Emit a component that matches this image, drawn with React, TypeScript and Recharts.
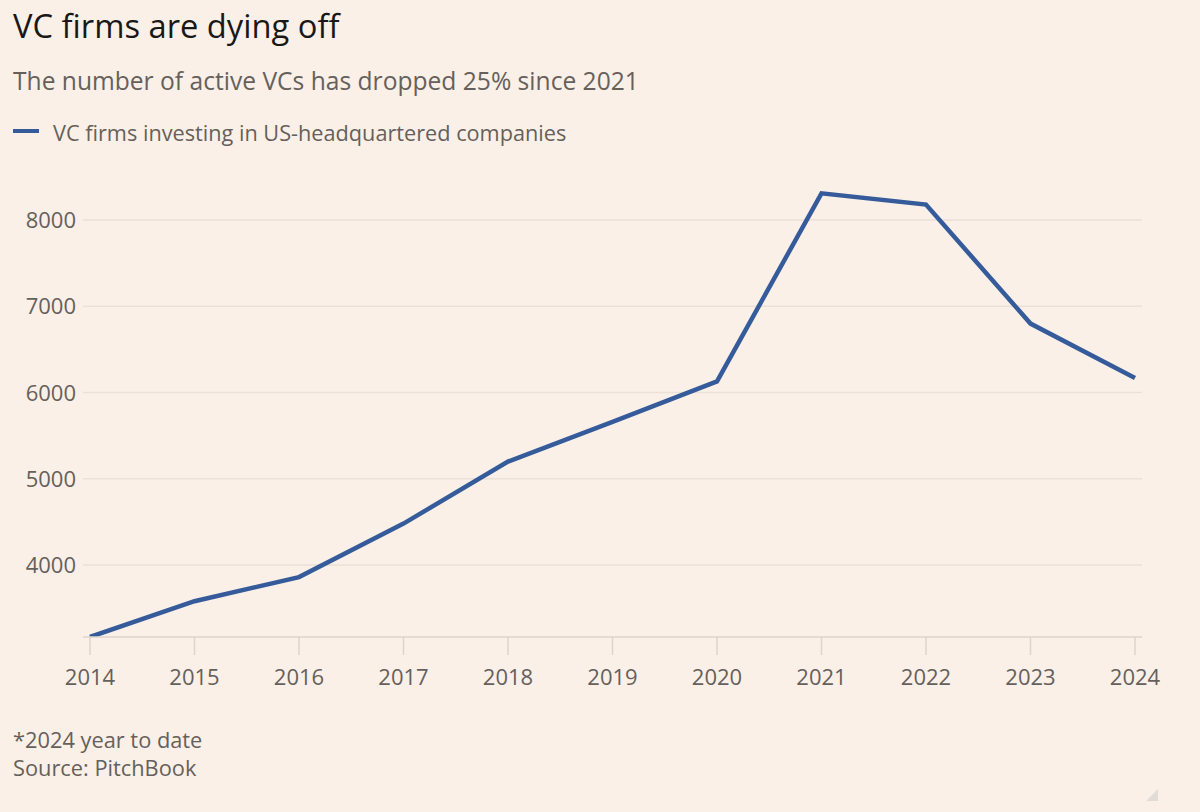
import React from "react";
import { LineChart, Line, XAxis, YAxis, CartesianGrid } from "recharts";

const years = ["2014", "2015", "2016", "2017", "2018", "2019", "2020", "2021", "2022", "2023", "2024"];
const vcFirms = [3165, 3580, 3860, 4480, 5200, 5660, 6130, 8310, 8180, 6800, 6170];
const yTicks = [4000, 5000, 6000, 7000, 8000];

const title = "VC firms are dying off";
const subtitle = "The number of active VCs has dropped 25% since 2021";
const legendLabel = "VC firms investing in US-headquartered companies";
const footnote = "*2024 year to date";
const source = "Source: PitchBook";

const data = years.map((y, i) => ({ year: y, value: vcFirms[i] }));

const BG = "#FAF0E7";
const LINE = "#355B9B";
const GREY = "#66605C";
const FONT = "'Open Sans', 'Noto Sans', sans-serif";

const YTick = (props: any) => {
  const { x, y, payload } = props;
  return (
    <text x={x} y={y + 8} textAnchor="end" fill={GREY} fontSize={22} fontFamily={FONT}>
      {payload.value}
    </text>
  );
};

const XTick = (props: any) => {
  const { x, y, payload } = props;
  return (
    <text x={x} y={y + 30} textAnchor="middle" fill={GREY} fontSize={22} fontFamily={FONT}>
      {payload.value}
    </text>
  );
};

export default function App() {
  return (
    <div style={{ position: "absolute", left: 0, top: 0, width: 1200, height: 812, background: BG, overflow: "hidden" }}>
      <div style={{ position: "absolute", left: 0, top: 0 }}>
        <LineChart width={1200} height={700} data={data} margin={{ top: 177, right: 58, left: 0, bottom: 23 }}>
          <CartesianGrid vertical={false} horizontalValues={yTicks} stroke="#EBE1D8" strokeWidth={1.5} />
          <XAxis
            dataKey="year"
            height={40}
            padding={{ left: 7, right: 7 }}
            axisLine={{ stroke: "#DDD4CB", strokeWidth: 1.5 }}
            tickLine={{ stroke: "#DDD4CB", strokeWidth: 1.5 }}
            tickSize={18}
            tickMargin={0}
            tick={<XTick />}
            interval={0}
          />
          <YAxis
            width={83}
            domain={[3165, 8500]}
            ticks={yTicks}
            axisLine={false}
            tickLine={false}
            tickSize={0}
            tickMargin={7}
            tick={<YTick />}
            allowDataOverflow
          />
          <Line
            type="linear"
            dataKey="value"
            stroke={LINE}
            strokeWidth={4.5}
            dot={false}
            isAnimationActive={false}
          />
        </LineChart>
      </div>
      <svg width={1200} height={812} style={{ position: "absolute", left: 0, top: 0, pointerEvents: "none" }}>
        <text x={13} y={38} fontSize={32.7} fill="#1A1817" fontFamily={FONT}>{title}</text>
        <text x={13} y={90} fontSize={24.6} fill={GREY} fontFamily={FONT}>{subtitle}</text>
        <line x1={13} y1={131} x2={39} y2={131} stroke={LINE} strokeWidth={4} />
        <text x={53} y={141} fontSize={21.7} fill={GREY} fontFamily={FONT}>{legendLabel}</text>
        <text x={13} y={748} fontSize={21.8} fill={GREY} fontFamily={FONT}>{footnote}</text>
        <text x={13} y={776} fontSize={21.8} fill={GREY} fontFamily={FONT}>{source}</text>
        <polygon points="1146,801 1158,789 1158,801" fill="#E2DCD6" />
      </svg>
    </div>
  );
}
